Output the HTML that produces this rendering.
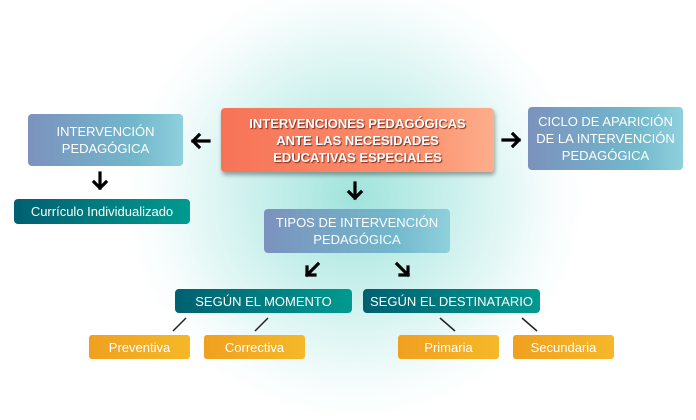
<!DOCTYPE html>
<html><head><meta charset="utf-8"><style>
body{margin:0;width:696px;height:420px;background:#fff;overflow:hidden;position:relative;font-family:"Liberation Sans",sans-serif}
.glow{position:absolute;left:125px;top:-25px;width:460px;height:445px;border-radius:50%;background:radial-gradient(closest-side,rgba(120,215,205,.7),rgba(160,228,222,.42) 55%,rgba(210,242,240,.2) 85%,rgba(255,255,255,0))}
.b{position:absolute;display:flex;align-items:center;justify-content:center;text-align:center;color:#fff;border-radius:4px;box-sizing:border-box}
.blue{background:linear-gradient(90deg,#7b92bd,#72b8cc 70%,#8fd0dc);font-size:13px;line-height:17px}
.teal{background:linear-gradient(90deg,#006070,#009a90);font-size:13px}
.or{background:linear-gradient(90deg,#f0a020,#f5b828);font-size:13px;border-radius:3px}
.red{background:linear-gradient(90deg,#f77358,#fc8f6c 70%,#fdae8c);font-weight:bold;font-size:13px;line-height:17px;text-shadow:1px 1px 1px #7a3020;box-shadow:1px 3px 4px rgba(0,0,0,.35)}
svg{position:absolute;left:0;top:0}
</style></head><body>
<div class="glow"></div>
<div class="b blue" style="left:28px;top:114px;width:155px;height:52px">INTERVENCIÓN<br>PEDAGÓGICA</div>
<div class="b red" style="left:221px;top:108px;width:273px;height:64px">INTERVENCIONES PEDAGÓGICAS<br>ANTE LAS NECESIDADES<br>EDUCATIVAS ESPECIALES</div>
<div class="b blue" style="left:528px;top:107px;width:155px;height:63px">CICLO DE APARICIÓN<br>DE LA INTERVENCIÓN<br>PEDAGÓGICA</div>
<div class="b teal" style="left:14px;top:199px;width:176px;height:25px">Currículo Individualizado</div>
<div class="b blue" style="left:264px;top:209px;width:186px;height:44px">TIPOS DE INTERVENCIÓN<br>PEDAGÓGICA</div>
<div class="b teal" style="left:175px;top:289px;width:177px;height:24px">SEGÚN EL MOMENTO</div>
<div class="b teal" style="left:363px;top:289px;width:177px;height:24px">SEGÚN EL DESTINATARIO</div>
<div class="b or" style="left:89px;top:335px;width:101px;height:24px">Preventiva</div>
<div class="b or" style="left:204px;top:335px;width:101px;height:24px">Correctiva</div>
<div class="b or" style="left:398px;top:335px;width:101px;height:24px">Primaria</div>
<div class="b or" style="left:513px;top:335px;width:101px;height:24px">Secundaria</div>
<svg width="696" height="420">
<g stroke="#000" stroke-width="3.2" fill="none" stroke-linecap="square">
<path d="M209 141H193M199 135L193 141L199 147"/>
<path d="M503 140H519M513 134L519 140L513 146"/>
<path d="M100 173V188M94 182L100 188L106 182"/>
<path d="M355 183V198M349 192L355 198L361 192"/>
<path d="M318 264L307 275M307 267V275H315"/>
<path d="M397 264L408 275M400 275H408V267"/>
</g>
<g stroke="#222" stroke-width="1.5">
<line x1="186" y1="318" x2="173" y2="331"/><line x1="268" y1="318" x2="255" y2="331"/>
<line x1="440" y1="318" x2="455" y2="331"/><line x1="522" y1="318" x2="537" y2="331"/>
</g></svg>
</body></html>
